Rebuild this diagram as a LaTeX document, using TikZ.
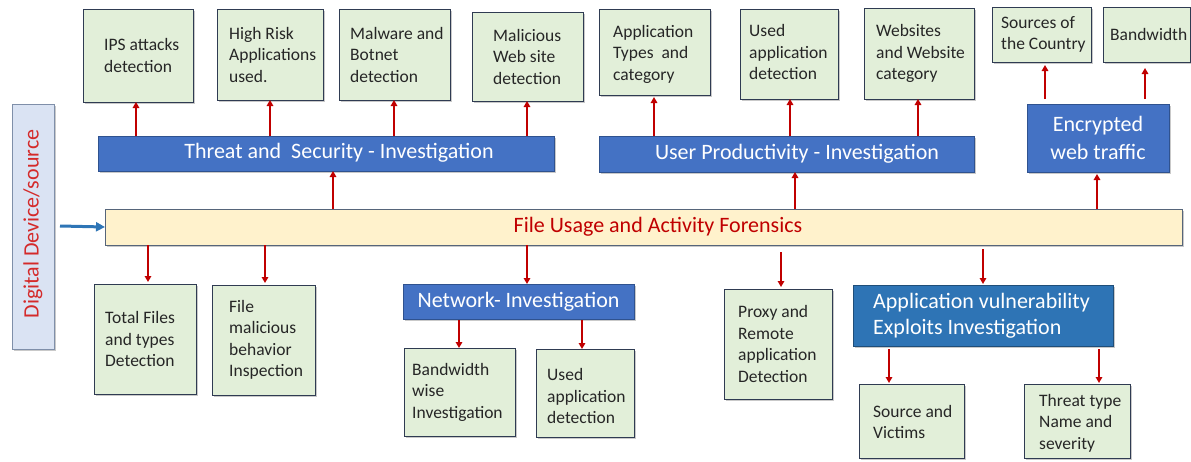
\documentclass[tikz,border=0pt]{standalone}
\usepackage{fontspec}
\setmainfont{Carlito}
\usetikzlibrary{arrows.meta,shadows}
\definecolor{gfill}{HTML}{E2EFD9}
\definecolor{gdraw}{HTML}{2F3B52}
\definecolor{bfill}{HTML}{4472C4}
\definecolor{bdraw}{HTML}{2F528F}
\definecolor{afill}{HTML}{2E74B5}
\definecolor{adraw}{HTML}{1F4E79}
\definecolor{mfill}{HTML}{FFF2CC}
\definecolor{mdraw}{HTML}{56657A}
\definecolor{dfill}{HTML}{DAE3F3}
\definecolor{ddraw}{HTML}{7F8FA9}
\definecolor{dred}{HTML}{C00000}
\definecolor{tred}{HTML}{D42A2A}
\definecolor{inblue}{HTML}{2E75B6}
\tikzset{
  shd/.style={drop shadow={shadow xshift=2pt,shadow yshift=-2pt,opacity=.3,fill=black!70}},
  gbox/.style={draw=gdraw,fill=gfill,line width=1pt,anchor=north west,inner sep=0pt,outer sep=0pt,shd},
  bbar/.style={draw=bdraw,fill=bfill,line width=0.8pt,anchor=north west,inner sep=0pt,outer sep=0pt,shd},
  gtxt/.style={anchor=west,align=left,inner sep=0pt,font=\fontsize{17.5}{21.5}\selectfont,text=black!85},
  btxt/.style={inner sep=0pt,text=white,font=\fontsize{22}{27}\selectfont},
  rarr/.style={draw=dred,line width=1.9pt,-{Triangle[length=6pt,width=6.5pt]}},
}
\begin{document}
\begin{tikzpicture}[x=1pt,y=-1pt]
\useasboundingbox (0,0) rectangle (1191,461);
% digital device
\node[draw=ddraw,fill=dfill,line width=1pt,anchor=north west,inner sep=0pt,outer sep=0pt,minimum width=42pt,minimum height=245pt,shd] (dds) at (12,104) {};
\node[rotate=90,inner sep=0pt,text=tred,font=\fontsize{22}{27}\selectfont] (ddst) at (33,224) {Digital Device/source};
% main bar
\node[draw=mdraw,fill=mfill,line width=1pt,anchor=north west,inner sep=0pt,outer sep=0pt,minimum width=1077pt,minimum height=36pt,shd] (fua) at (105,209) {};
\node[inner sep=0pt,text=dred,font=\fontsize{22}{27}\selectfont] (fuat) at (658,227) {File Usage and Activity Forensics};
\coordinate (inp) at (60,226);
\draw[draw=inblue,line width=3pt,-{Triangle[length=9pt,width=9pt]}] (inp) -- (fua.west);
% blue bars
\node[bbar,minimum width=456pt,minimum height=35pt] (tsb) at (98,136) {};
\node[btxt] (tsbt) at (339,153) {Threat and\ \ Security - Investigation};
\node[bbar,minimum width=375pt,minimum height=36pt] (upb) at (599,136) {};
\node[btxt] (upbt) at (797,154) {User Productivity - Investigation};
\node[bbar,minimum width=142pt,minimum height=68pt,align=center,text=white,font=\fontsize{22}{28}\selectfont] (enc) at (1027,104) {Encrypted\\web traffic};
\node[bbar,minimum width=231pt,minimum height=35pt,text=white,font=\fontsize{22}{27}\selectfont] (net) at (403,284) {Network- Investigation};
\node[draw=adraw,fill=afill,line width=1pt,anchor=north west,inner sep=0pt,outer sep=0pt,minimum width=260pt,minimum height=61pt,shd] (avx) at (853,285) {};
\node[btxt,anchor=west,align=left,font=\fontsize{22}{26}\selectfont] (avxt) at ([xshift=20pt]avx.west) {Application vulnerability\\Exploits Investigation};
% top green boxes
\node[gbox,minimum width=110pt,minimum height=93pt] (ips) at (83,9) {};
\node[gtxt] (ipst) at ([xshift=21pt]ips.west) {IPS attacks\\detection};
\node[gbox,minimum width=106pt,minimum height=91pt] (hra) at (217,9) {};
\node[gtxt] (hrat) at ([xshift=12pt]hra.west) {High Risk\\Applications\\used.};
\node[gbox,minimum width=111pt,minimum height=91pt] (mal) at (339,9) {};
\node[gtxt] (malt) at ([xshift=11pt]mal.west) {Malware and\\Botnet\\detection};
\node[gbox,minimum width=111pt,minimum height=89pt] (mws) at (472,12) {};
\node[gtxt] (mwst) at ([xshift=21pt]mws.west) {Malicious\\Web site\\detection};
\node[gbox,minimum width=111pt,minimum height=86pt] (apt) at (599,9) {};
\node[gtxt] (aptt) at ([xshift=14pt,yshift=-2pt]apt.west) {Application\\Types\ \ and\\category};
\node[gbox,minimum width=98pt,minimum height=90pt] (uad) at (740,9) {};
\node[gtxt] (uadt) at ([xshift=9pt,yshift=2pt]uad.west) {Used\\application\\detection};
\node[gbox,minimum width=110pt,minimum height=91pt] (web) at (864,8) {};
\node[gtxt] (webt) at ([xshift=12pt]web.west) {Websites\\and Website\\category};
\node[gbox,minimum width=99pt,minimum height=55pt] (src) at (992,7) {};
\node[gtxt] (srct) at ([xshift=9pt]src.west) {Sources of\\the Country};
\node[gbox,minimum width=87pt,minimum height=55pt] (bwt) at (1103,7) {};
\node[gtxt] (bwtt) at ([xshift=7pt]bwt.west) {Bandwidth};
% bottom green boxes
\node[gbox,minimum width=102pt,minimum height=110pt] (tfd) at (94,284) {};
\node[gtxt] (tfdt) at ([xshift=11pt]tfd.west) {Total Files\\and types\\Detection};
\node[gbox,minimum width=103pt,minimum height=110pt] (fmb) at (212,285) {};
\node[gtxt] (fmbt) at ([xshift=17pt]fmb.west) {File\\malicious\\behavior\\Inspection};
\node[gbox,minimum width=111pt,minimum height=88pt] (bwi) at (404,348) {};
\node[gtxt] (bwit) at ([xshift=8pt]bwi.west) {Bandwidth\\wise\\Investigation};
\node[gbox,minimum width=98pt,minimum height=88pt] (uab) at (536,349) {};
\node[gtxt] (uabt) at ([xshift=11pt,yshift=-3pt]uab.west) {Used\\application\\detection};
\node[gbox,minimum width=108pt,minimum height=110pt] (prx) at (724,289) {};
\node[gtxt] (prxt) at ([xshift=14pt]prx.west) {Proxy and\\Remote\\application\\Detection};
\node[gbox,minimum width=105pt,minimum height=74pt] (srv) at (859,384) {};
\node[gtxt] (srvt) at ([xshift=14pt,yshift=-1pt]srv.west) {Source and\\Victims};
\node[gbox,minimum width=106pt,minimum height=74pt] (ttn) at (1024,384) {};
\node[gtxt] (ttnt) at ([xshift=15pt,yshift=-2pt]ttn.west) {Threat type\\Name and\\severity};
% arrows from main bar up
\draw[rarr] (fua.north -| 333,0) -- (tsb.south -| 333,0);
\draw[rarr] (fua.north -| 795,0) -- (upb.south -| 795,0);
\draw[rarr] (fua.north -| 1097,0) -- ([yshift=-2pt]enc.south -| 1097,0);
% arrows from bars up
\draw[rarr] (tsb.north -| 136,0) -- (ips.south -| 136,0);
\draw[rarr] (tsb.north -| 270,0) -- (hra.south -| 270,0);
\draw[rarr] (tsb.north -| 394,0) -- (mal.south -| 394,0);
\draw[rarr] (tsb.north -| 527,0) -- (mws.south -| 527,0);
\draw[rarr] (upb.north -| 654,0) -- ([yshift=-2pt]apt.south -| 654,0);
\draw[rarr] (upb.north -| 790,0) -- (uad.south -| 790,0);
\draw[rarr] (upb.north -| 918,0) -- (web.south -| 918,0);
\draw[rarr,shorten <=5pt,shorten >=3pt] (enc.north -| 1045,0) -- (src.south -| 1045,0);
\draw[rarr,shorten <=5pt,shorten >=6pt] (enc.north -| 1145,0) -- (bwt.south -| 1145,0);
% arrows down
\draw[rarr,shorten >=2pt] (fua.south -| 148,0) -- (tfd.north -| 148,0);
\draw[rarr,shorten >=2pt] (fua.south -| 265,0) -- (fmb.north -| 265,0);
\draw[rarr] (fua.south -| 527,0) -- (net.north -| 527,0);
\draw[rarr,shorten <=7pt,shorten >=2pt] (fua.south -| 781,0) -- (prx.north -| 781,0);
\draw[rarr,shorten <=4pt,shorten >=1pt] (fua.south -| 983,0) -- (avx.north -| 983,0);
\draw[rarr,shorten <=1pt] (net.south -| 459,0) -- (bwi.north -| 459,0);
\draw[rarr,shorten <=1pt] (net.south -| 582,0) -- (uab.north -| 582,0);
\draw[rarr,shorten <=3pt,shorten >=1pt] (avx.south -| 889,0) -- (srv.north -| 889,0);
\draw[rarr,shorten <=3pt,shorten >=1pt] (avx.south -| 1099,0) -- (ttn.north -| 1099,0);
\end{tikzpicture}
\end{document}
